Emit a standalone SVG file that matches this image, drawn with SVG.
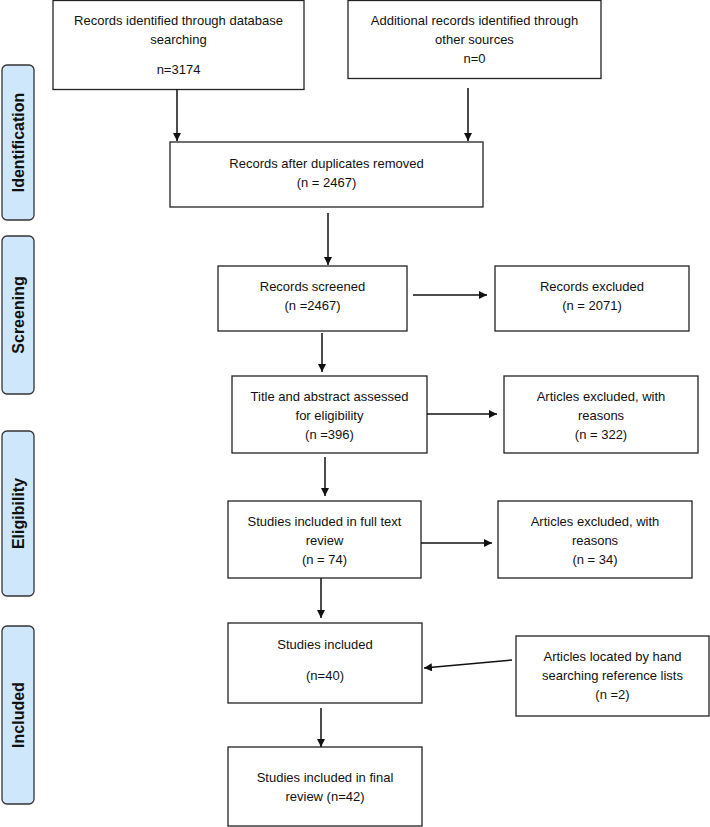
<svg xmlns="http://www.w3.org/2000/svg" width="710" height="827" viewBox="0 0 710 827">
<style>
.box{fill:#fff;stroke:#222;stroke-width:1.3}
.lab{fill:#cfe7fb;stroke:#333;stroke-width:1.3}
.t{font-family:"Liberation Sans",Arial,sans-serif;font-size:13px;fill:#111;text-anchor:middle}
.s{font-family:"Liberation Sans",Arial,sans-serif;font-size:16px;font-weight:bold;fill:#111;text-anchor:middle}
.c{stroke:#111;stroke-width:1.5;fill:none;marker-end:url(#ah)}
</style>
<defs>
<marker id="ah" viewBox="0 0 10 10" refX="10" refY="5" markerWidth="8" markerHeight="8" markerUnits="userSpaceOnUse" orient="auto"><path d="M0,0 L10,5 L0,10 z" fill="#111"/></marker>
</defs>
<rect width="710" height="827" fill="#fff"/>
<g id="lab-identification"><rect class="lab" x="2" y="65" width="32" height="155" rx="5"/><text class="s" transform="translate(24,142.5) rotate(-90)">Identification</text></g>
<g id="lab-screening"><rect class="lab" x="2" y="236" width="32" height="158" rx="5"/><text class="s" transform="translate(24,315) rotate(-90)">Screening</text></g>
<g id="lab-eligibility"><rect class="lab" x="2" y="431" width="32" height="165" rx="5"/><text class="s" transform="translate(24,513.5) rotate(-90)">Eligibility</text></g>
<g id="lab-included"><rect class="lab" x="2" y="626" width="32" height="178" rx="5"/><text class="s" transform="translate(24,715) rotate(-90)">Included</text></g>

<g id="n1"><rect class="box" x="53" y="0.5" width="251" height="89"/><text class="t" x="178.5" y="25">Records identified through database</text><text class="t" x="178.5" y="44">searching</text><text class="t" x="178.5" y="74">n=3174</text></g>
<g id="n2"><rect class="box" x="348" y="0.5" width="253" height="78"/><text class="t" x="474.5" y="25">Additional records identified through</text><text class="t" x="474.5" y="44">other sources</text><text class="t" x="474.5" y="63">n=0</text></g>
<g id="n3"><rect class="box" x="170" y="142" width="313" height="65"/><text class="t" x="326.5" y="168">Records after duplicates removed</text><text class="t" x="326.5" y="187">(n = 2467)</text></g>
<g id="n4"><rect class="box" x="218" y="266" width="189" height="65"/><text class="t" x="312.5" y="291">Records screened</text><text class="t" x="312.5" y="310">(n =2467)</text></g>
<g id="n5"><rect class="box" x="495" y="266" width="194" height="65"/><text class="t" x="592" y="291">Records excluded</text><text class="t" x="592" y="310">(n = 2071)</text></g>
<g id="n6"><rect class="box" x="232" y="376" width="195" height="77"/><text class="t" x="329.5" y="401">Title and abstract assessed</text><text class="t" x="329.5" y="420">for eligibility</text><text class="t" x="329.5" y="439">(n =396)</text></g>
<g id="n7"><rect class="box" x="504" y="376" width="194" height="77"/><text class="t" x="601" y="401">Articles excluded, with</text><text class="t" x="601" y="420">reasons</text><text class="t" x="601" y="439">(n = 322)</text></g>
<g id="n8"><rect class="box" x="228" y="501" width="193" height="77"/><text class="t" x="324.5" y="526">Studies included in full text</text><text class="t" x="324.5" y="545">review</text><text class="t" x="324.5" y="564">(n = 74)</text></g>
<g id="n9"><rect class="box" x="498" y="501" width="194" height="77"/><text class="t" x="595" y="526">Articles excluded, with</text><text class="t" x="595" y="545">reasons</text><text class="t" x="595" y="564">(n = 34)</text></g>
<g id="n10"><rect class="box" x="228" y="623" width="194" height="80"/><text class="t" x="325" y="649">Studies included</text><text class="t" x="325" y="680">(n=40)</text></g>
<g id="n11"><rect class="box" x="516" y="636" width="193" height="80"/><text class="t" x="612.5" y="661">Articles located by hand</text><text class="t" x="612.5" y="680">searching reference lists</text><text class="t" x="612.5" y="699">(n =2)</text></g>
<g id="n12"><rect class="box" x="228" y="747" width="194" height="79"/><text class="t" x="325" y="782">Studies included in final</text><text class="t" x="325" y="801">review (n=42)</text></g>

<g id="connectors">
<line class="c" x1="177" y1="89.5" x2="177" y2="141"/>
<line class="c" x1="468" y1="88" x2="468" y2="141"/>
<line class="c" x1="328" y1="213" x2="328" y2="265"/>
<line class="c" x1="413" y1="295" x2="487" y2="295"/>
<line class="c" x1="322" y1="333" x2="322" y2="372"/>
<line class="c" x1="427" y1="414" x2="497" y2="414"/>
<line class="c" x1="325" y1="457" x2="325" y2="496"/>
<line class="c" x1="421" y1="543" x2="492" y2="543"/>
<line class="c" x1="321" y1="578" x2="321" y2="618"/>
<line class="c" x1="512" y1="660" x2="424" y2="668"/>
<line class="c" x1="321" y1="708" x2="321" y2="747"/>
</g>
</svg>
